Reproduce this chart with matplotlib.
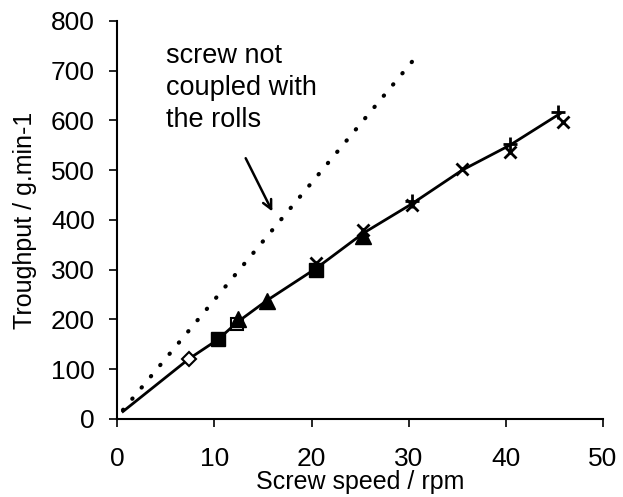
import numpy as np
import matplotlib
matplotlib.use("Agg")
import matplotlib.pyplot as plt

plt.rcParams['font.family'] = ['Liberation Sans', 'DejaVu Sans']

# solid curve (coupled screw)
curve_x = [0.6, 7.4, 10.4, 12.4, 15.4, 20.5, 25.3, 30.3, 35.5, 40.4, 45.6]
curve_y = [15, 121, 160, 195, 238, 303, 373, 432, 500, 550, 614]

# dotted line (screw not coupled with the rolls)
free_x = [0.6, 30.9]
free_y = [18, 731]

# measured points, one list per marker type
diamond_x, diamond_y = [7.4], [121]
square_x, square_y = [10.4, 20.5], [160, 300]
open_sq_x, open_sq_y = [12.3], [190]
tri_x, tri_y = [12.4, 15.4, 25.3], [200, 238, 368]
cross_x = [20.5, 25.3, 30.3, 35.5, 40.4, 45.9]
cross_y = [314, 380, 430, 502, 537, 597]
plus_x, plus_y = [30.3, 40.4, 45.4], [438, 553, 616]

xticks = [0, 10, 20, 30, 40, 50]
yticks = [0, 100, 200, 300, 400, 500, 600, 700, 800]

fig = plt.figure(figsize=(6.23, 4.97), dpi=100)
ax = fig.add_axes([0.188, 0.157, 0.78, 0.801])

ax.plot(free_x, free_y, color='black', lw=3.0, linestyle=(0, (0.1, 3.4)),
        dash_capstyle='round')
ax.plot(curve_x, curve_y, color='black', lw=2.0)

ax.plot(open_sq_x, open_sq_y, 's', ms=9, mfc='white', mec='black', mew=1.5)
ax.plot(square_x, square_y, 's', ms=10, color='black')
ax.plot(tri_x, tri_y, '^', ms=11, color='black')
ax.plot(diamond_x, diamond_y, 'D', ms=7, mfc='white', mec='black', mew=1.5)
ax.plot(cross_x, cross_y, 'x', ms=9, mew=2, color='black')
ax.plot(plus_x, plus_y, '+', ms=10, mew=2, color='black')

ax.text(5.0, 755, 'screw not\ncoupled with\nthe rolls', fontsize=19.5,
        va='top', ha='left', linespacing=1.3)
ax.annotate('', xy=(16.1, 412), xytext=(13.1, 529),
            arrowprops=dict(arrowstyle='->', color='black', lw=1.8,
                            mutation_scale=16))

ax.set_xlim(0, 50)
ax.set_ylim(0, 800)
ax.set_xticks(xticks)
ax.set_yticks(yticks)
ax.spines['top'].set_visible(False)
ax.spines['right'].set_visible(False)
ax.spines['left'].set_linewidth(1.5)
ax.spines['bottom'].set_linewidth(1.5)
ax.tick_params(axis='both', labelsize=19, width=1.2, length=6, direction='out')
ax.tick_params(axis='x', pad=14)
ax.tick_params(axis='y', pad=10)

ax.set_xlabel('Screw speed / rpm', fontsize=18)
ax.xaxis.set_label_coords(0.5, -0.128)
ax.set_ylabel('Troughput / g.min-1', fontsize=18)
ax.yaxis.set_label_coords(-0.165, 0.5)

fig.savefig('out.png', dpi=100)
